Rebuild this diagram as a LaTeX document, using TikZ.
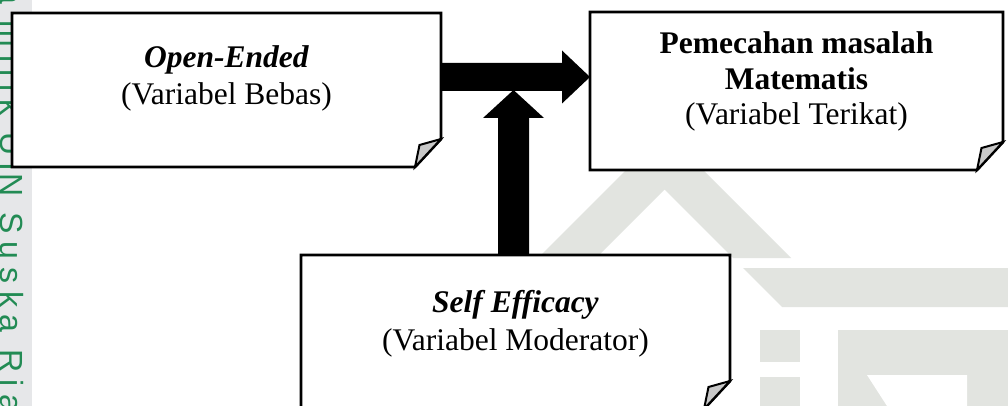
\documentclass[tikz,border=0pt]{standalone}
\usepackage{fontspec}
\setmainfont{Liberation Serif}
\newfontfamily\wmfont[LetterSpace=24]{Liberation Sans}
\usetikzlibrary{calc}
\definecolor{wmgray}{RGB}{230,231,233}
\definecolor{wmgreen}{RGB}{34,139,84}
\definecolor{logogray}{RGB}{226,228,224}
\definecolor{foldgray}{RGB}{200,200,200}
\newcommand\foldbox[1]{%
  \filldraw[boxline] (#1.north west) -- (#1.north east) -- ([yshift=28pt]#1.south east)
    -- ([xshift=-26pt]#1.south east) -- (#1.south west) -- cycle;
  \filldraw[foldline] ([yshift=28pt]#1.south east) -- ([xshift=-21.5pt,yshift=22pt]#1.south east)
    -- ([xshift=-26pt]#1.south east) -- cycle;}
\begin{document}
\begin{tikzpicture}[x=1pt,y=-1pt,
  boxshape/.style={inner sep=0pt, outer sep=0pt, draw=none},
  boxline/.style={draw=black, fill=white, line width=2.8pt, line join=miter},
  foldline/.style={draw=black, fill=foldgray, line width=2pt, line join=miter},
  lbl/.style={inner sep=0pt, font=\fontsize{31.5}{36}\selectfont},
  wmtext/.style={rotate=-90, inner sep=0pt, text=wmgreen, font=\wmfont\fontsize{32}{38}\selectfont},
  blockarrow/.style={fill=black}]
\useasboundingbox (0,0) rectangle (1008,406);
\clip (0,0) rectangle (1008,406);
\fill[white] (0,0) rectangle (1008,406);
% watermark strip
\fill[wmgray] (0,0) rectangle (32,406);
\node[wmtext, anchor=base east] (wmA) at (1,172) {a milik UI};
\node[wmtext, anchor=base west] (wmB) at (1,173) {N Suska Riau};
% watermark logo
\fill[logogray] (496,300) -- (664.5,131.5) -- (791,258) -- (733,258) -- (664.5,189.5) -- (554,300) -- cycle;
\fill[logogray] (743,268) -- (1008,268) -- (1008,307) -- (782,307) -- cycle;
\fill[logogray] (760,330) rectangle (800,362);
\fill[logogray] (760,377) rectangle (800,406);
\fill[logogray] (838,330) rectangle (1008,406);
\fill[white] (867,375) -- (967,375) -- (967,406) -- (887,406) -- cycle;
% boxes
\node[boxshape, minimum width=429pt, minimum height=154pt] (ob) at (226.5,90) {};
\node[boxshape, minimum width=413pt, minimum height=158pt] (pm) at (796.5,91) {};
\node[boxshape, minimum width=429pt, minimum height=154pt] (se) at (515.5,332) {};
\foldbox{ob}
\foldbox{pm}
\foldbox{se}
% texts
\node[lbl, anchor=base] (ob1) at (226.5,68) {\textbf{\textit{Open-Ended}}};
\node[lbl, anchor=base] (ob2) at (226.5,105) {(Variabel Bebas)};
\node[lbl, anchor=base] (pm1) at (796.5,54) {\textbf{Pemecahan masalah}};
\node[lbl, anchor=base] (pm2) at (796.5,90) {\textbf{Matematis}};
\node[lbl, anchor=base] (pm3) at (796.5,125) {(Variabel Terikat)};
\node[lbl, anchor=base] (se1) at (515.5,312) {\textbf{\textit{Self Efficacy}}};
\node[lbl, anchor=base] (se2) at (515.5,350) {(Variabel Moderator)};
% horizontal block arrow: Open-Ended -> Pemecahan
\coordinate (hy) at (0,77);
\coordinate (hs) at (ob.east |- hy);
\coordinate (ht) at (pm.west |- hy);
\fill[blockarrow] ([yshift=14pt]hs) -- ([xshift=-28pt,yshift=14pt]ht) -- ([xshift=-28pt,yshift=26.5pt]ht)
  -- (ht) -- ([xshift=-28pt,yshift=-26.5pt]ht) -- ([xshift=-28pt,yshift=-14pt]ht)
  -- ([yshift=-14pt]hs) -- cycle;
% vertical block arrow: Self Efficacy -> horizontal arrow
\coordinate (vx) at (513.5,0);
\coordinate (hb) at ([yshift=-13pt]hs);
\coordinate (vs) at (vx |- se.north);
\coordinate (vt) at (vx |- hb);
\fill[blockarrow] ([xshift=-15.5pt]vs) -- ([xshift=-15.5pt,yshift=-28pt]vt) -- ([xshift=-30.5pt,yshift=-28pt]vt)
  -- (vt) -- ([xshift=30.5pt,yshift=-28pt]vt) -- ([xshift=15.5pt,yshift=-28pt]vt)
  -- ([xshift=15.5pt]vs) -- cycle;
\end{tikzpicture}
\end{document}
